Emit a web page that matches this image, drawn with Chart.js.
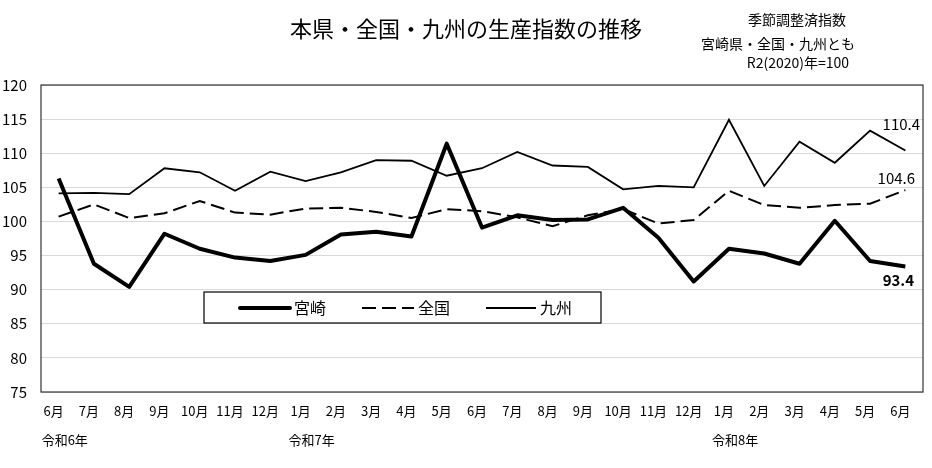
<!DOCTYPE html>
<html>
<head>
<meta charset="utf-8">
<script src="https://cdn.jsdelivr.net/npm/chart.js@4"></script>
<style>
  html, body { margin: 0; padding: 0; background: #fff; }
  #wrap { width: 932px; height: 468px; position: relative; }
</style>
</head>
<body>
<div id="wrap"><canvas id="prodChart"></canvas></div>
<script>
// 月ラベル（令和6年6月〜令和8年6月）
const months = ['6月', '7月', '8月', '9月', '10月', '11月', '12月', '1月', '2月', '3月', '4月', '5月',
                '6月', '7月', '8月', '9月', '10月', '11月', '12月', '1月', '2月', '3月', '4月', '5月', '6月'];
const eraText = ['令和6年', '令和7年', '令和8年'];
const eraStart = [0, 7, 19];

const miyazaki = [106.3, 93.8, 90.4, 98.2, 96.0, 94.7, 94.2, 95.1, 98.1, 98.5, 97.8, 111.4,
                  99.1, 100.9, 100.2, 100.3, 102.0, 97.6, 91.2, 96.0, 95.3, 93.8, 100.1, 94.2, 93.4];
const zenkoku = [100.7, 102.5, 100.5, 101.2, 103.0, 101.3, 101.0, 101.9, 102.0, 101.4, 100.5, 101.8,
                 101.5, 100.6, 99.3, 100.9, 101.8, 99.7, 100.2, 104.5, 102.4, 102.0, 102.4, 102.6, 104.6];
const kyushu = [104.1, 104.2, 104.0, 107.8, 107.2, 104.5, 107.3, 105.9, 107.2, 109.0, 108.9, 106.7,
                107.8, 110.2, 108.2, 108.0, 104.7, 105.2, 105.0, 114.9, 105.2, 111.7, 108.6, 113.3, 110.4];

const yMin = 75, yMax = 120, yStep = 5;

const JP = '"Noto Sans CJK JP", "Noto Sans", sans-serif';

// タイトル・注記・凡例・年ラベル・末尾の数値
const extras = {
    id: 'extras',
    afterDraw(chart) {
        const ctx = chart.ctx;
        const area = chart.chartArea;
        const xs = chart.scales.x;
        ctx.save();

        // 枠線
        ctx.strokeStyle = '#333';
        ctx.lineWidth = 1.2;
        ctx.strokeRect(area.left, area.top, area.right - area.left, area.bottom - area.top);

        // タイトル
        ctx.fillStyle = '#000';
        ctx.textBaseline = 'middle';
        ctx.textAlign = 'center';
        ctx.font = '22px ' + JP;
        ctx.fillText('本県・全国・九州の生産指数の推移', 466, 29);
        ctx.font = '14px ' + JP;
        ctx.fillText('季節調整済指数', 797, 20);
        ctx.fillText('宮崎県・全国・九州とも', 778, 44);
        ctx.fillText('R2(2020)年=100', 798, 63);

        // 年ラベル
        ctx.textAlign = 'left';
        ctx.font = '13px ' + JP;
        eraText.forEach((t, i) => {
            ctx.fillText(t, xs.getPixelForValue(eraStart[i]) - 17, 440);
        });

        // 末尾の数値
        const last = months.length - 1;
        const pK = chart.getDatasetMeta(2).data[last];
        const pZ = chart.getDatasetMeta(1).data[last];
        const pM = chart.getDatasetMeta(0).data[last];
        ctx.textAlign = 'center';
        ctx.font = '15px ' + JP;
        ctx.fillText(kyushu[last].toFixed(1), pK.x - 4, pK.y - 26);
        ctx.fillText(zenkoku[last].toFixed(1), pZ.x - 9, pZ.y - 12);
        ctx.font = 'bold 15px ' + JP;
        ctx.fillText(miyazaki[last].toFixed(1), pM.x - 7, pM.y + 14);

        // 凡例
        ctx.fillStyle = '#fff';
        ctx.fillRect(204, 292, 397, 31);
        ctx.strokeStyle = '#000';
        ctx.lineWidth = 1.2;
        ctx.strokeRect(204, 292, 397, 31);
        const items = [
            { x: 240, w: 50, tx: 294 },
            { x: 362, w: 52, tx: 418 },
            { x: 486, w: 50, tx: 540 }
        ];
        chart.data.datasets.forEach((ds, i) => {
            const it = items[i];
            ctx.beginPath();
            ctx.strokeStyle = ds.borderColor;
            ctx.lineWidth = ds.borderWidth;
            ctx.lineCap = i === 0 ? 'round' : 'butt';
            ctx.setLineDash(ds.borderDash || []);
            ctx.moveTo(it.x, 308);
            ctx.lineTo(it.x + it.w, 308);
            ctx.stroke();
            ctx.setLineDash([]);
            ctx.fillStyle = '#000';
            ctx.textAlign = 'left';
            ctx.font = '16px ' + JP;
            ctx.fillText(ds.label, it.tx, 308);
        });
        ctx.restore();
    }
};

new Chart(document.getElementById('prodChart'), {
    type: 'line',
    data: {
        labels: months,
        datasets: [{
            label: '宮崎',
            data: miyazaki,
            borderColor: '#000',
            borderWidth: 4,
            borderJoinStyle: 'round'
        }, {
            label: '全国',
            data: zenkoku,
            borderColor: '#000',
            borderWidth: 2,
            borderDash: [14, 6]
        }, {
            label: '九州',
            data: kyushu,
            borderColor: '#000',
            borderWidth: 1.8
        }]
    },
    options: {
        responsive: true,
        maintainAspectRatio: false,
        animation: false,
        layout: { padding: { top: 85, right: 9, bottom: 0, left: 0 } },
        elements: {
            point: { radius: 0, hoverRadius: 0 },
            line: { tension: 0, fill: false }
        },
        plugins: {
            legend: { display: false },
            tooltip: { enabled: false }
        },
        scales: {
            x: {
                offset: true,
                grid: { display: false },
                border: { display: false },
                ticks: {
                    autoSkip: false,
                    maxRotation: 0,
                    padding: 3,
                    labelOffset: -5,
                    color: '#000',
                    font: { family: JP, size: 13 }
                },
                afterFit(scale) { scale.height = 76; }
            },
            y: {
                min: yMin,
                max: yMax,
                grid: { color: '#d9d9d9', drawTicks: false },
                border: { display: false },
                ticks: {
                    stepSize: yStep,
                    padding: 14,
                    color: '#000',
                    font: { family: JP, size: 15 }
                },
                afterFit(scale) { scale.width = 41; }
            }
        }
    },
    plugins: [extras]
});
</script>
</body>
</html>
